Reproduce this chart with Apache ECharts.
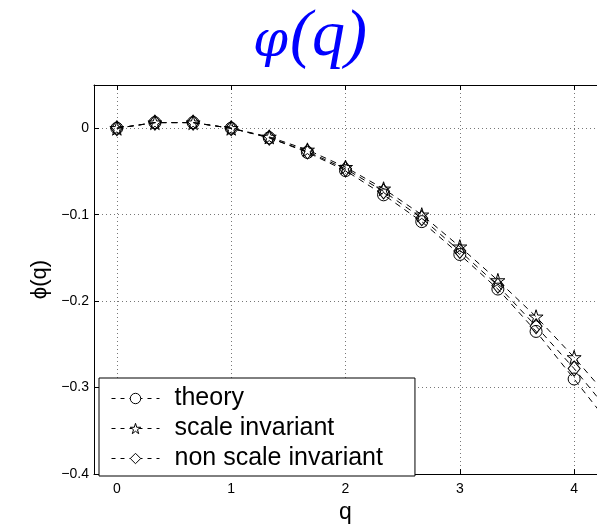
<!DOCTYPE html>
<html>
<head>
<meta charset="utf-8">
<script src="https://cdn.jsdelivr.net/npm/echarts@6/dist/echarts.min.js"></script>
<style>
  html, body { margin: 0; padding: 0; background: #fff; }
  #chart { width: 597px; height: 529px; }
</style>
</head>
<body>
<div id="chart"></div>
<script>
// q values (steps of 1/3), last one is clipped by the right edge
const qValues = [0, 0.333, 0.667, 1, 1.333, 1.667, 2, 2.333, 2.667, 3, 3.333, 3.667, 4, 4.333];
const theory = [0, 0.0065, 0.0065, 0, -0.011, -0.028, -0.049, -0.077, -0.108, -0.146, -0.186, -0.235, -0.290, -0.346];
const scaleInv = [0, 0.0065, 0.0065, 0, -0.010, -0.025, -0.045, -0.070, -0.100, -0.137, -0.176, -0.218, -0.265, -0.316];
const nonScaleInv = [0, 0.0065, 0.0065, 0, -0.011, -0.027, -0.047, -0.073, -0.104, -0.142, -0.182, -0.229, -0.278, -0.332];

const STAR = 'path://M50 0 L61.17 34.63 L97.55 34.55 L68.07 55.87 L79.39 90.45 L50 69 L20.61 90.45 L31.93 55.87 L2.45 34.55 L38.83 34.63 Z';

const pairs = arr => qValues.map((q, i) => [q, arr[i]]);
const fmtMinus = v => (v === 0 ? '0' : String(+v.toFixed(2)).replace('-', '\u2212'));

function lineSeries(name, data, symbol, size) {
    return {
        name: name,
        type: 'line',
        data: pairs(data),
        symbol: symbol,
        symbolSize: size,
        showAllSymbol: true,
        lineStyle: { color: '#000', width: 1, type: [6, 5] },
        itemStyle: { color: 'rgba(255,255,255,0)', borderColor: '#000', borderWidth: 1 },
        animation: false
    };
}

const chart = echarts.init(document.getElementById('chart'));
chart.setOption({
    animation: false,
    title: {
        text: '{phi|φ}{arg|(q)}',
        left: 248,
        top: 0,
        textStyle: {
            color: '#0000ff',
            fontWeight: 'normal',
            rich: {
                phi: { fontFamily: 'DejaVu Serif', fontStyle: 'italic', fontWeight: 'normal', fontSize: 50, color: '#0000ff', padding: [10, 2, 0, 0] },
                arg: { fontFamily: 'Liberation Serif', fontStyle: 'italic', fontWeight: 'normal', fontSize: 66, color: '#0000ff' }
            }
        }
    },
    grid: { left: 94, top: 85, right: 0, bottom: 47 },
    legend: {
        orient: 'vertical',
        left: 99,
        top: 378,
        padding: [8, 32, 5, 12],
        itemGap: 5,
        itemWidth: 48,
        itemHeight: 13,
        backgroundColor: '#fff',
        borderColor: '#000',
        borderWidth: 1,
        borderRadius: 0,
        itemStyle: { color: '#fff', borderColor: '#000', borderWidth: 1 },
        lineStyle: { color: '#000', width: 1, type: [4, 5] },
        textStyle: { fontFamily: 'Liberation Sans', fontSize: 25, color: '#000', lineHeight: 25, padding: [0, 0, 0, 10] },
        data: ['theory', 'scale invariant', 'non scale invariant']
    },
    xAxis: [{
        type: 'value',
        min: -0.2,
        max: 4.2,
        splitNumber: 5,
        name: 'q',
        nameLocation: 'middle',
        nameGap: 25,
        nameTextStyle: { fontFamily: 'Liberation Sans', fontSize: 23, color: '#000' },
        axisLine: { onZero: false, lineStyle: { color: '#000', width: 1 } },
        axisTick: { inside: true, length: 5, lineStyle: { color: '#000' } },
        axisLabel: { showMinLabel: false, showMaxLabel: false, margin: 8, fontFamily: 'Liberation Sans', fontSize: 14, color: '#000', formatter: fmtMinus },
        splitLine: { show: true, lineStyle: { color: '#777', type: [1, 3] } }
    }, {
        type: 'value',
        position: 'top',
        min: -0.2,
        max: 4.2,
        splitNumber: 5,
        axisLine: { show: true, onZero: false, lineStyle: { color: '#000', width: 1 } },
        axisTick: { show: true, inside: true, length: 5, lineStyle: { color: '#000' } },
        axisLabel: { show: false },
        splitLine: { show: false }
    }],
    yAxis: {
        type: 'value',
        min: -0.4,
        max: 0.05,
        interval: 0.1,
        name: 'ϕ(q)',
        nameLocation: 'middle',
        nameGap: 40,
        nameTextStyle: { fontFamily: 'Liberation Sans', fontSize: 22, color: '#000' },
        axisLine: { show: true, onZero: false, lineStyle: { color: '#000', width: 1 } },
        axisTick: { inside: true, length: 5, lineStyle: { color: '#000' } },
        axisLabel: { showMaxLabel: false, margin: 5, fontFamily: 'Liberation Sans', fontSize: 14, color: '#000', formatter: fmtMinus },
        splitLine: { show: true, lineStyle: { color: '#777', type: [1, 3] } }
    },
    series: [
        lineSeries('theory', theory, 'circle', 12),
        lineSeries('scale invariant', scaleInv, STAR, 14),
        lineSeries('non scale invariant', nonScaleInv, 'diamond', [12, 15])
    ]
});
</script>
</body>
</html>
